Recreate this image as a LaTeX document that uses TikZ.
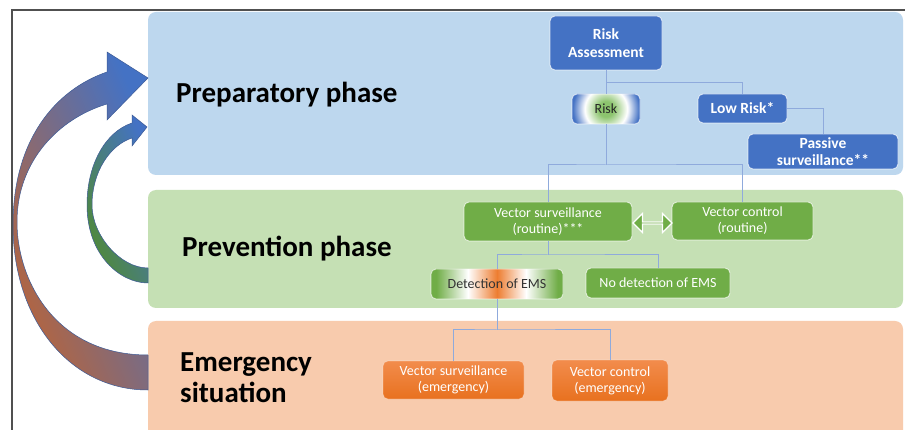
\documentclass[tikz,border=0pt]{standalone}
\usepackage{fontspec}
\setmainfont{Carlito}
\usetikzlibrary{shapes.arrows}
\definecolor{panelblue}{HTML}{BDD7EE}
\definecolor{panelgreen}{HTML}{C5E0B4}
\definecolor{panelorange}{HTML}{F8CBAD}
\definecolor{boxblue}{HTML}{4472C4}
\definecolor{boxgreen}{HTML}{70AD47}
\definecolor{orangetop}{HTML}{F28C4C}
\definecolor{orangebot}{HTML}{E8711F}
\definecolor{emsorange}{HTML}{ED7D31}
\definecolor{riskgreen}{HTML}{8CC46E}
\definecolor{linec}{HTML}{8FAADC}
\definecolor{framec}{HTML}{505050}
\definecolor{arrbrown}{HTML}{B8643A}
\definecolor{arrgreen}{HTML}{4F8A35}
\definecolor{arrline}{HTML}{3C5A96}
\pgfdeclareradialshading{riskshade}{\pgfpoint{0bp}{0bp}}{color(0bp)=(riskgreen); color(5bp)=(riskgreen); color(14bp)=(white); color(22bp)=(boxblue); color(50bp)=(boxblue)}
\pgfdeclarehorizontalshading{emsshade}{100bp}{color(0bp)=(boxgreen); color(27bp)=(boxgreen); color(39bp)=(white); color(50bp)=(emsorange); color(61bp)=(white); color(73bp)=(boxgreen); color(100bp)=(boxgreen)}
\tikzset{
  box/.style={rounded corners=5pt, draw=white, draw opacity=0.75, line width=0.8pt, inner sep=2pt, align=center, text=white},
  bluebox/.style={box, fill=boxblue, font=\fontsize{15.5}{17.5}\selectfont\bfseries},
  greenbox/.style={box, fill=boxgreen, font=\fontsize{14}{16}\selectfont},
  orangebox/.style={box, top color=orangetop, bottom color=orangebot, draw opacity=0.3, font=\fontsize{14}{16}\selectfont},
  conn/.style={draw=linec, line width=1pt},
  phase/.style={font=\fontsize{29}{31}\selectfont\bfseries, anchor=base west, text=black, inner sep=0pt, align=left},
  panel/.style={rounded corners=8pt}
}
\begin{document}
\begin{tikzpicture}[x=1pt,y=-1pt]
\useasboundingbox (0,0) rectangle (905,430);
\clip (0,0) rectangle (905,430);
\fill[white] (0,0) rectangle (905,430);
% frame
\draw[framec, line width=1.5pt] (12,440) -- (12,10) -- (910,10);
% panels
\fill[panel, panelblue] (148,12) rectangle (903,175);
\fill[panel, panelgreen] (148,190) rectangle (903,308);
\fill[panel, panelorange] (148,321) rectangle (903,450);
% big curved arrow
\shade[bottom color=arrbrown, top color=boxblue, shading angle=-67, draw=arrline, line width=0.5pt]
  (148,390) .. controls (70,390) and (13,320) .. (13,225)
  .. controls (13,140) and (55,90) .. (107,72)
  -- (107,52) -- (148,78) -- (107,120) -- (107,104)
  .. controls (60,118) and (17,160) .. (17,222)
  .. controls (17,280) and (55,355) .. (148,355) -- cycle;
% small curved arrow
\shade[bottom color=arrgreen, top color=boxblue, shading angle=-67, draw=arrline, line width=0.5pt]
  (148,283) .. controls (120,283) and (87,255) .. (87,205)
  .. controls (87,165) and (105,132) .. (132,123)
  -- (132,115) -- (147,127) -- (132,146) -- (132,138)
  .. controls (110,145) and (92,172) .. (92,205)
  .. controls (92,235) and (120,268) .. (148,268) -- cycle;
% phase labels
\node[phase] (prep) at (176,103) {Preparatory phase};
\node[phase] (prev) at (182,257) {Prevention phase};
\node[phase] (emer) at (180,402) {Emergency\\situation};
% boxes
\node[bluebox, minimum width=112pt, minimum height=54pt] (ra) at (606,43) {Risk\\Assessment};
\node[box, fill=boxblue, minimum width=68pt, minimum height=30pt, text=black!85, font=\fontsize{14}{16}\selectfont,
  path picture={\shade[shading=riskshade] (path picture bounding box.center) circle (38pt);}] (risk) at (606,109) {Risk};
\node[bluebox, minimum width=89pt, minimum height=29pt] (lr) at (742.5,108.5) {Low Risk*};
\node[bluebox, minimum width=150pt, minimum height=35pt] (pas) at (823,151.5) {Passive\\surveillance**};
\node[greenbox, minimum width=168pt, minimum height=39pt] (vsr) at (548,221.5) {Vector surveillance\\(routine)***};
\node[greenbox, minimum width=141pt, minimum height=38pt] (vcr) at (742.5,221) {Vector control\\(routine)};
\node[box, fill=boxgreen, minimum width=132pt, minimum height=30pt, text=black!80, font=\fontsize{14}{16}\selectfont,
  path picture={\shade[shading=emsshade] (path picture bounding box.south west) rectangle (path picture bounding box.north east);}] (det) at (497,284) {Detection of EMS};
\node[greenbox, minimum width=144pt, minimum height=30pt] (nod) at (658,283) {No detection of EMS};
\node[orangebox, minimum width=141pt, minimum height=38pt] (vse) at (453.5,380) {Vector surveillance\\(emergency)};
\node[orangebox, minimum width=116pt, minimum height=41pt] (vce) at (610,380.5) {Vector control\\(emergency)};
% double arrow
\node[double arrow, draw=white, fill=boxgreen, line width=1.3pt, minimum width=19pt, minimum height=39pt,
  double arrow head extend=5.5pt, inner sep=0pt] (dbl) at (652.5,223) {};
% connectors
\coordinate (b1) at (606,83);
\coordinate (b2) at (606,165);
\coordinate (b3) at (548,255);
\coordinate (b4) at (497,330);
\draw[conn] (ra.south) -- (risk.north);
\draw[conn] (b1) -| (lr.north);
\draw[conn] (lr.east) -| (pas.north);
\draw[conn] (risk.south) -- (b2);
\draw[conn] (vsr.north) |- (b2) -| (vcr.north);
\draw[conn] (vsr.south) -- (b3);
\draw[conn] (det.north) |- (b3) -| (nod.north);
\draw[conn] (det.south) -- (b4);
\draw[conn] (vse.north) |- (b4) -| (vce.north);
\end{tikzpicture}
\end{document}
